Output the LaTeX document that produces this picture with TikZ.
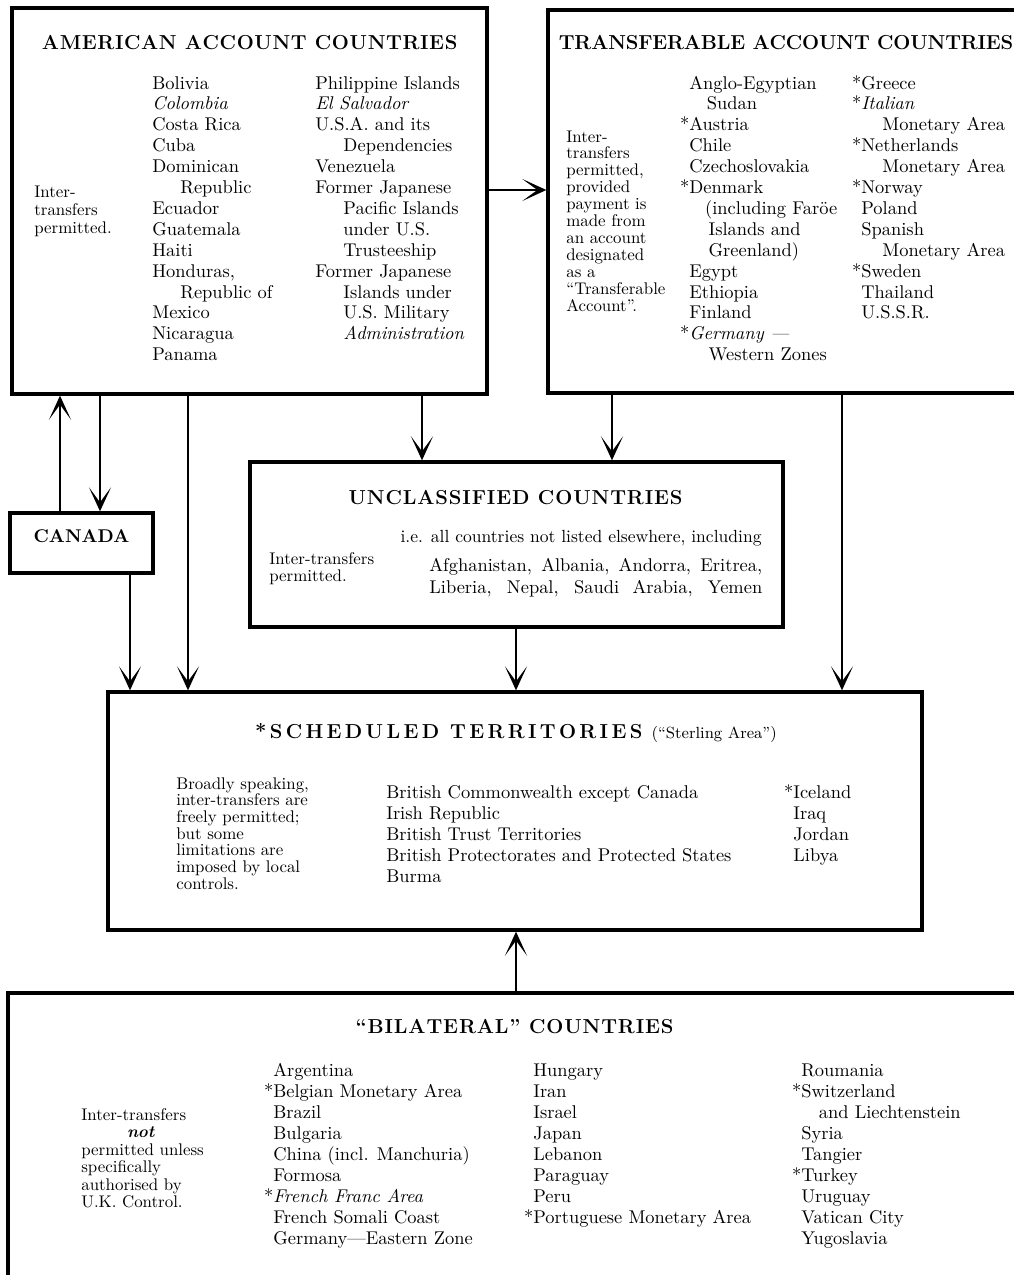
\documentclass[tikz,border=0pt]{standalone}
\usepackage{fontspec}
\usetikzlibrary{arrows.meta,fit}

% spaced-out capitals for the box headings
\ExplSyntaxOn
\NewDocumentCommand{\spaced}{O{0pt} m}
  {
    \seq_set_split:Nnn \l_tmpa_seq { ~ } {#2}
    \seq_map_indexed_inline:Nn \l_tmpa_seq
      {
        \int_compare:nNnT {##1} > {1} { \c_space_tl }
        \tl_map_inline:nn {##2} { ####1 \kern #1 }
      }
  }
\ExplSyntaxOff
\newcommand{\boxtitle}[2][0pt]{{\fontsize{11.5}{13}\selectfont\bfseries\spaced[#1]{#2}}}
\tikzset{
  box/.style={draw, line width=1.9pt, inner sep=0pt},
  conn/.style={line width=1.5pt, -{Stealth[length=0.48cm,width=0.44cm,inset=0.3cm]}},
  heading/.style={inner sep=0pt, anchor=base},
  entry/.style={font=\fontsize{10.5}{12}\selectfont, inner sep=0pt, anchor=base west},
  remark/.style={font=\fontsize{9.6}{10}\selectfont, inner sep=0pt, anchor=base west},
}

\begin{document}
\begin{tikzpicture}[x=0.02cm, y=-0.02cm]
    \useasboundingbox (0,0) rectangle (1014,1275);
    \clip (0,0) rectangle (1014,1275);

    % boxes
    \node[box, fit={(12,8) (487,394)}] (amer) {};
    \node[box, fit={(548,10) (1040,393)}] (trans) {};
    \node[box, fit={(10,513) (153,573)}, font=\fontsize{10.5}{12}\selectfont\bfseries] (canada) {CANADA};
    \node[box, fit={(250,462) (783,627)}] (unclass) {};
    \node[box, fit={(108,692) (922,930)}] (sched) {};
    \node[box, fit={(8,993) (1040,1300)}] (bilat) {};

    % lanes for the connectors
    \coordinate (rowT) at (0,190);
    \coordinate (laneA) at (60,0);
    \coordinate (laneB) at (100,0);
    \coordinate (laneC) at (130,0);
    \coordinate (laneD) at (188,0);
    \coordinate (laneE) at (422,0);
    \coordinate (laneF) at (612,0);
    \coordinate (laneG) at (516,0);
    \coordinate (laneH) at (842,0);

    \draw[conn] (amer.east |- rowT) -- (trans.west |- rowT);
    \draw[conn] (canada.north -| laneA) -- (amer.south -| laneA);
    \draw[conn] (amer.south -| laneB) -- (canada.north -| laneB);
    \draw[conn] (canada.south -| laneC) -- (sched.north -| laneC);
    \draw[conn] (amer.south -| laneD) -- (sched.north -| laneD);
    \draw[conn] (amer.south -| laneE) -- (unclass.north -| laneE);
    \draw[conn] (trans.south -| laneF) -- (unclass.north -| laneF);
    \draw[conn] (unclass.south -| laneG) -- (sched.north -| laneG);
    \draw[conn] (trans.south -| laneH) -- (sched.north -| laneH);
    \draw[conn] (bilat.north -| laneG) -- (sched.south -| laneG);

    % American account countries
    \node[heading] (amer-title) at (250,49) {\boxtitle[0.35pt]{AMERICAN ACCOUNT COUNTRIES}};
    \foreach \t [count=\i] in {Inter-, transfers, permitted.}
        \node[remark] (amer-note\i) at (34,{179+18*\i}) {\t};
    \foreach \t [count=\i] in {Bolivia, \textit{Colombia}, Costa Rica, Cuba, Dominican,
        \hspace*{16pt}Republic, Ecuador, Guatemala, Haiti, {Honduras,},
        \hspace*{16pt}Republic of, Mexico, Nicaragua, Panama}
        \node[entry] (amer-a\i) at (152,{68.1+20.9*\i}) {\t};
    \foreach \t [count=\i] in {Philippine Islands, \textit{El Salvador}, U.S.A. and its,
        \hspace*{16pt}Dependencies, Venezuela, Former Japanese, \hspace*{16pt}Pacific Islands,
        \hspace*{16pt}under U.S., \hspace*{16pt}Trusteeship, Former Japanese,
        \hspace*{16pt}Islands under, \hspace*{16pt}U.S. Military, \hspace*{16pt}\textit{Administration}}
        \node[entry] (amer-b\i) at (315,{68.1+20.9*\i}) {\t};

    % Transferable account countries
    \node[heading] (trans-title) at (786,49) {\boxtitle[-0.1pt]{TRANSFERABLE ACCOUNT COUNTRIES}};
    \foreach \t [count=\i] in {Inter-, transfers, {permitted,}, provided, payment is,
        made from, an account, designated, as a, ``Transferable, Account''.}
        \node[remark] (trans-note\i) at (566,{125.1+16.9*\i}) {\t};
    \foreach \t [count=\i] in {Anglo-Egyptian, \hspace*{10pt}Sudan, \llap{*}Austria, Chile,
        Czechoslovakia, \llap{*}Denmark, \hspace*{9pt}(including Faröe, \hspace*{11pt}Islands and,
        \hspace*{11pt}Greenland), Egypt, Ethiopia, Finland, \llap{*}\textit{Germany ---},
        \hspace*{11pt}Western Zones}
        \node[entry] (trans-a\i) at (689,{68.1+20.9*\i}) {\t};
    \foreach \t [count=\i] in {\llap{*}Greece, \llap{*}\textit{Italian}, \hspace*{12pt}Monetary Area,
        \llap{*}Netherlands, \hspace*{12pt}Monetary Area, \llap{*}Norway, Poland, Spanish,
        \hspace*{12pt}Monetary Area, \llap{*}Sweden, Thailand, U.S.S.R.}
        \node[entry] (trans-b\i) at (861,{68.1+20.9*\i}) {\t};

    % Unclassified countries
    \node[heading] (unclass-title) at (516,504) {\boxtitle[0.5pt]{UNCLASSIFIED COUNTRIES}};
    \node[remark, anchor=base east, font=\fontsize{10}{11}\selectfont] (unclass-ie) at (762,542) {i.e. all countries not listed elsewhere, including};
    \node[remark] (unclass-note1) at (269,564) {Inter-transfers};
    \node[remark] (unclass-note2) at (269,581) {permitted.};
    \node[entry] (unclass-a1) at (429,571) {\makebox[6.66cm][s]{Afghanistan, Albania, Andorra, Eritrea,}};
    \node[entry] (unclass-a2) at (429,593) {\makebox[6.66cm][s]{Liberia, Nepal, Saudi Arabia, Yemen}};

    % Scheduled territories
    \node[heading] (sched-title) at (516,738) {\boxtitle[1.9pt]{*SCHEDULED TERRITORIES} {\fontsize{9.2}{11}\selectfont(``Sterling Area'')}};
    \foreach \t [count=\i] in {{Broadly speaking,}, inter-transfers are, freely permitted;,
        but some, limitations are, imposed by local, controls.}
        \node[remark] (sched-note\i) at (176,{772.3+16.7*\i}) {\t};
    \foreach \t [count=\i] in {British Commonwealth except Canada, Irish Republic,
        British Trust Territories, British Protectorates and Protected States, Burma}
        \node[entry] (sched-a\i) at (386,{777+21*\i}) {\t};
    \foreach \t [count=\i] in {\llap{*}Iceland, Iraq, Jordan, Libya}
        \node[entry] (sched-b\i) at (793,{777+21*\i}) {\t};

    % Bilateral countries
    \node[heading] (bilat-title) at (515,1033) {\boxtitle[0.5pt]{“BILATERAL” COUNTRIES}};
    \foreach \t [count=\i] in {Inter-transfers, \hspace*{26pt}\textbf{\textit{not}}, permitted unless,
        specifically, authorised by, U.K. Control.}
        \node[remark] (bilat-note\i) at (81,{1102.5+17.5*\i}) {\t};
    \foreach \t [count=\i] in {Argentina, \llap{*}Belgian Monetary Area, Brazil, Bulgaria,
        China (incl. Manchuria), Formosa, \llap{*}\textit{French Franc Area},
        French Somali Coast, Germany---Eastern Zone}
        \node[entry] (bilat-a\i) at (273,{1055+21*\i}) {\t};
    \foreach \t [count=\i] in {Hungary, Iran, Israel, Japan, Lebanon, Paraguay, Peru,
        \llap{*}Portuguese Monetary Area}
        \node[entry] (bilat-b\i) at (533,{1055+21*\i}) {\t};
    \foreach \t [count=\i] in {Roumania, \llap{*}Switzerland, \hspace*{10pt}and Liechtenstein,
        Syria, Tangier, \llap{*}Turkey, Uruguay, Vatican City, Yugoslavia}
        \node[entry] (bilat-c\i) at (801,{1055+21*\i}) {\t};
\end{tikzpicture}
\end{document}
